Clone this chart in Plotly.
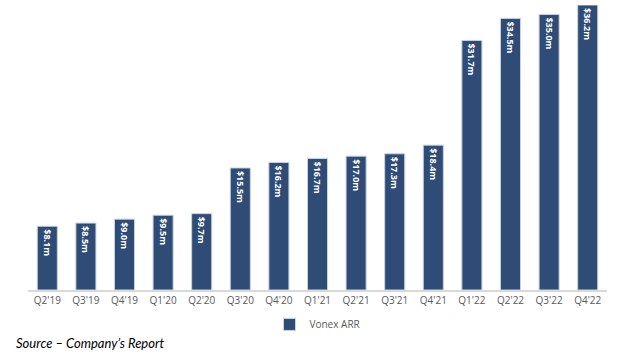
import plotly.graph_objects as go

quarters = ["Q2'19", "Q3'19", "Q4'19", "Q1'20", "Q2'20", "Q3'20", "Q4'20", "Q1'21",
            "Q2'21", "Q3'21", "Q4'21", "Q1'22", "Q2'22", "Q3'22", "Q4'22"]
arr = [8.1, 8.5, 9.0, 9.5, 9.7, 15.5, 16.2, 16.7, 17.0, 17.3, 18.4, 31.7, 34.5, 35.0, 36.2]
labels = ["<b>$%.1fm</b>" % v for v in arr]

fig = go.Figure()
fig.add_trace(go.Bar(
    x=quarters, y=arr, name="Vonex ARR",
    text=labels, textposition="inside", insidetextanchor="end", textangle=90,
    textfont=dict(family="Open Sans", size=9, color="white"),
    marker=dict(color="#2F4C77", line=dict(color="#C9D3E0", width=1)),
))

fig.update_layout(
    width=618, height=356,
    margin=dict(l=28, r=11, t=5, b=66, autoexpand=False),
    paper_bgcolor="white", plot_bgcolor="white",
    bargap=0.48,
    showlegend=True,
    legend=dict(orientation="h", x=0.5, xanchor="center", y=-0.07, yanchor="top",
                font=dict(family="Open Sans", size=10, color="#595959"),
                itemwidth=30),
    xaxis=dict(showline=True, linecolor="#D9D9D9", linewidth=2, ticks="",
               tickfont=dict(family="Open Sans", size=10, color="#595959")),
    yaxis=dict(visible=False, range=[0, 36.2], showgrid=False),
    uniformtext=dict(minsize=8, mode="show"),
    annotations=[dict(text="<i>Source – Company’s Report</i>", xref="paper", yref="paper",
                      x=-0.025, y=-0.185, xanchor="left", yanchor="middle", showarrow=False,
                      font=dict(family="Lato", size=13, color="black"))],
)

fig.write_html("out.html", config={"displayModeBar": False},
               post_script="document.body.style.margin='0';")
